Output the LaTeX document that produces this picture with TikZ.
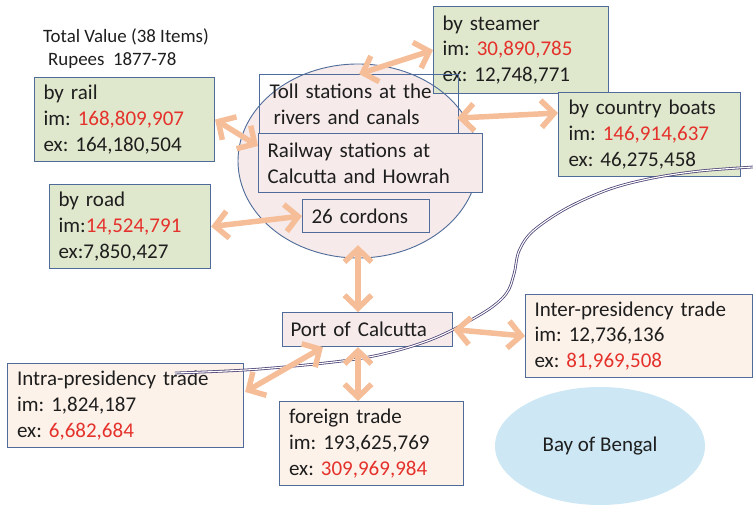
\documentclass[tikz,border=0pt]{standalone}
\usepackage{fontspec}
\setmainfont{Carlito}
\usetikzlibrary{arrows.meta,shapes.geometric,calc}
\definecolor{bordc}{HTML}{4E6B9A}
\definecolor{greenf}{HTML}{DFE8CD}
\definecolor{peachf}{HTML}{FCF2E9}
\definecolor{pinkf}{HTML}{F6EAEA}
\definecolor{redt}{HTML}{E5312B}
\definecolor{darkt}{HTML}{1E1E1E}
\definecolor{arrc}{HTML}{F5BE98}
\definecolor{seaf}{HTML}{CDE8F4}
\definecolor{riverc}{HTML}{4F4577}
\begin{document}
\frenchspacing
\begin{tikzpicture}[x=1pt,y=-1pt,
  every node/.style={text=darkt,font=\fontsize{21}{25.6}\selectfont},
  bx/.style={draw=bordc,line width=1.1pt,anchor=north west,inner xsep=9pt,inner ysep=0pt,align=left},
  gbox/.style={bx,fill=greenf},
  pbox/.style={bx,fill=peachf},
  kbox/.style={bx,fill=pinkf},
  tbox/.style={bx},
  dbl/.style={draw=arrc,line width=5.5pt,line cap=round,
    {Straight Barb[length=13pt,width=27pt]}-{Straight Barb[length=13pt,width=27pt]}},
  river/.style={draw=riverc,double=white,line width=0.8pt,double distance=1.1pt}]
\useasboundingbox (0,0) rectangle (753,505);

% title
\node[anchor=base west,font=\fontsize{18.9}{22.4}\selectfont,inner sep=0pt] (title1) at (43,43) {Total Value (38 Items)};
\node[anchor=base west,font=\fontsize{18.9}{22.4}\selectfont,inner sep=0pt] (title2) at (48,66) {Rupees~~1877-78};

% cordon ellipse
\node[ellipse,fill=pinkf,minimum width=240,minimum height=194,inner sep=0pt] (ell) at (358,161) {};
\node[gbox,minimum width=175,minimum height=87,text width=157] (steam) at (433,6)
  {by steamer\\im: \textcolor{redt}{30,890,785}\\ex: 12,748,771};
\draw[draw=bordc,line width=0.9pt] (ell.center) ellipse [x radius=120,y radius=97];
\node[tbox,minimum width=199,minimum height=59,text width=179,inner xsep=10pt] (toll) at (259,74)
  {Toll stations at the\\\hspace*{4pt}rivers and canals};
\node[kbox,minimum width=224,minimum height=59,text width=206] (rly) at (258,133)
  {Railway stations at\\Calcutta and Howrah};
\node[kbox,minimum width=127,minimum height=33,text width=109] (cord) at (302,199) {26 cordons};

% source boxes
\node[gbox,minimum width=180,minimum height=84,text width=162] (rail) at (34,77)
  {by rail\\im: \textcolor{redt}{168,809,907}\\ex: 164,180,504};
\node[gbox,minimum width=161,minimum height=84,text width=143] (road) at (49,184)
  {by road\\im:\textcolor{redt}{14,524,791}\\ex:7,850,427};
\node[gbox,minimum width=182,minimum height=84,text width=162,inner xsep=10pt] (boats) at (558,92)
  {by country boats\\im: \textcolor{redt}{146,914,637}\\ex: 46,275,458};

% port and trades
\node[kbox,minimum width=170,minimum height=34,text width=154,inner xsep=8pt] (port) at (282,312) {Port of Calcutta};
\node[pbox,minimum width=227,minimum height=83,text width=209] (inter) at (525,294)
  {Inter-presidency trade\\im: 12,736,136\\ex: \textcolor{redt}{81,969,508}};
\node[pbox,minimum width=236,minimum height=84,text width=217,inner xsep=9.5pt] (intra) at (7,363)
  {Intra-presidency trade\\im: 1,824,187\\ex: \textcolor{redt}{6,682,684}};
\node[pbox,minimum width=184,minimum height=84,text width=165,inner xsep=9.5pt] (foreign) at (279,401)
  {foreign trade\\im: 193,625,769\\ex: \textcolor{redt}{309,969,984}};

% sea
\node[ellipse,fill=seaf,minimum width=210,minimum height=118,inner sep=0pt] (bay) at (600,446) {Bay of Bengal};

% river
\draw[river] plot[smooth,tension=0.55] coordinates {(175,373) (260,369) (363,358) (430,340) (483,313) (506,294) (514,274) (519,251) (533,231) (567,208) (610,189) (653,178) (700,171) (753,167)};

% arrows
\draw[dbl] (toll.north) -- (steam.west);
\draw[dbl] (rail.east) -- ($(rly.north west)+(0,13)$);
\draw[dbl] (road.east) -- (cord.west);
\draw[dbl] ($(toll.south east)+(-2,-16)$) -- ($(boats.north west)+(0,21)$);
\draw[dbl] ($(ell.south)+(0,-13)$) -- (ell.south |- port.north);
\draw[dbl] (port.east) -- (inter.west);
\draw[dbl] ($(port.south west)+(41,0)$) -- ($(intra.north east)+(1,29)$);
\draw[dbl] (ell.south |- port.south) -- (ell.south |- foreign.north);
\end{tikzpicture}
\end{document}
